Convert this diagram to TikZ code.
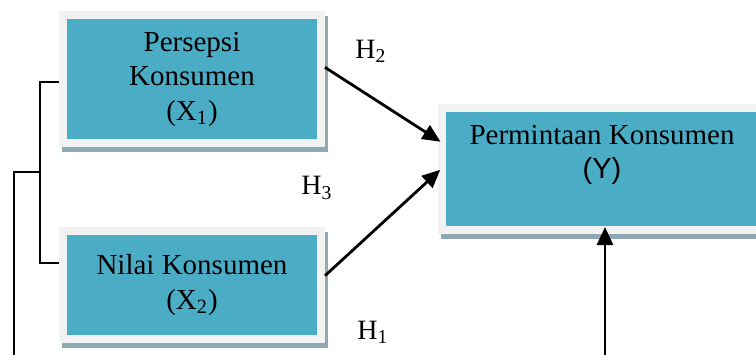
\documentclass[tikz,border=0pt]{standalone}
\usepackage{fontspec}
\setmainfont{Liberation Serif}
\newfontfamily\arialfont{Liberation Sans}
\usetikzlibrary{positioning,arrows.meta,backgrounds}
\definecolor{varfill}{HTML}{4BACC6}
\definecolor{varframe}{HTML}{F2F2F2}
\definecolor{varshadow}{HTML}{8EA9B4}

\begin{document}
\begin{tikzpicture}[x=0.5pt,y=-0.5pt,
varnode/.style={rectangle, fill=varfill, draw=varframe, line width=4pt, align=center, inner sep=0pt, font=\fontsize{14.5}{17.25}\selectfont},
hnode/.style={inner sep=0pt, font=\fontsize{14}{16}\selectfont},
link/.style={draw=black, line width=1pt},
arrow/.style={draw=black, line width=1.4pt, -{Triangle[length=9pt,width=8pt]}},
]
\useasboundingbox (0,0) rectangle (756,354);
\clip (0,0) rectangle (756,354);
%Nodes
\node[varnode, minimum width=129pt, minimum height=64pt](persepsi) at (192,79){Persepsi\\Konsumen\\(X\textsubscript{1})};
\node[varnode, minimum width=129pt, minimum height=54pt](nilai) at (192,285){Nilai Konsumen\\(X\textsubscript{2})};
\node[varnode, minimum width=160pt, minimum height=61pt](permintaan) at (602,169){};
\node[align=center, inner sep=0pt, font=\fontsize{14.5}{17.25}\selectfont](permintaanteks) at (602,155){Permintaan Konsumen\\{\arialfont (Y)}};

\node[hnode](h2) at (371,51){H\textsubscript{2}};
\node[hnode](h3) at (317,188){H\textsubscript{3}};
\node[hnode](h1) at (373,332){H\textsubscript{1}};

\coordinate (tee) at (40,172);
\coordinate (corner) at (14,400);
\coordinate (h1foot) at (605,400);

%Shadows
\begin{scope}[on background layer]
\foreach \n in {persepsi,nilai,permintaan}
  \fill[varshadow]([shift={(3,5)}]\n.north west) rectangle ([shift={(3,5)}]\n.south east);
\end{scope}

\draw[link]([yshift=-1.5pt]persepsi.west) -- ++(-19,0) |- ([yshift=11pt]nilai.west);
\draw[link](tee) -| (corner);

\draw[arrow, shorten >=-1.5pt](persepsi.5) -- (permintaan.170);
\draw[arrow, shorten >=-1.5pt](nilai.4) -- (permintaan.181);
\draw[arrow, shorten >=-3.5pt](h1foot) -- (h1foot |- permintaan.south);
\end{tikzpicture}
\end{document}
